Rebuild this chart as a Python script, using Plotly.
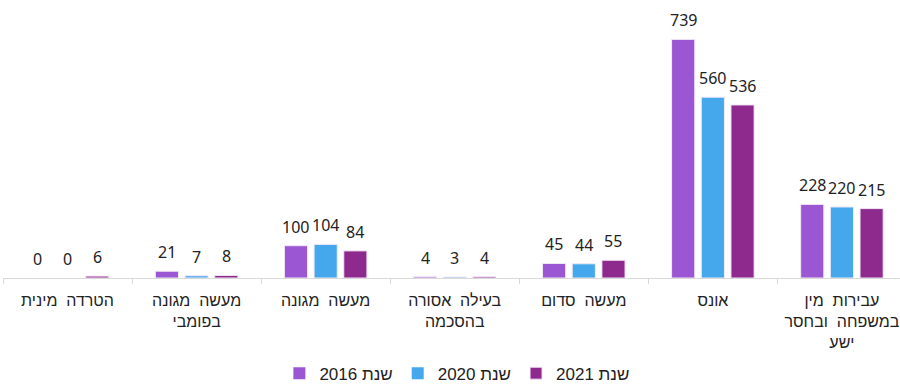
import plotly.graph_objects as go

# Offence categories, left to right as displayed (wide word spacing as in the source sheet)
SP = "\u00a0 "
categories = [
    f"הטרדה{SP}מינית",
    f"מעשה{SP}מגונה<br>בפומבי",
    f"מעשה{SP}מגונה",
    f"בעילה{SP}אסורה<br>בהסכמה",
    f"מעשה{SP}סדום",
    "אונס",
    f"עבירות{SP}מין<br>במשפחה{SP}ובחסר<br>ישע",
]

series_names = ["שנת 2016", "שנת 2020", "שנת 2021"]
values_2016 = [0, 21, 100, 4, 45, 739, 228]
values_2020 = [0, 7, 104, 3, 44, 560, 220]
values_2021 = [6, 8, 84, 4, 55, 536, 215]
colors = ["#9b57d3", "#45a7ec", "#8e2a8e"]
all_values = [values_2016, values_2020, values_2021]

WIDTH, HEIGHT = 900, 384
MARGIN = dict(l=3, r=0, t=10, b=106)
X_RANGE = [-0.5, 6.45]
BARGAP = 0.31
BARGROUPGAP = 0.22

fig = go.Figure()
for name, vals, col in zip(series_names, all_values, colors):
    fig.add_trace(go.Bar(
        x=categories,
        y=vals,
        name=name,
        marker=dict(
            color=col,
            # no outline on empty bars so zero values leave no mark
            line=dict(color="#f2e8f7", width=[0 if v == 0 else 1 for v in vals]),
        ),
        cliponaxis=False,
    ))

# Value labels sit above each bar, shifted to the bar's slot within its group
cat_px = (WIDTH - MARGIN["l"] - MARGIN["r"]) / (X_RANGE[1] - X_RANGE[0])
slot_px = cat_px * (1 - BARGAP) / len(all_values)
for i, vals in enumerate(all_values):
    offset = (i - (len(all_values) - 1) / 2) * slot_px
    for cat, v in zip(categories, vals):
        fig.add_annotation(
            x=cat, y=v, text=str(v),
            xshift=offset, yshift=6,
            yanchor="bottom", showarrow=False,
            font=dict(family="Noto Sans", size=16, color="#222222"),
        )

fig.update_layout(
    width=WIDTH,
    height=HEIGHT,
    margin=MARGIN,
    paper_bgcolor="white",
    plot_bgcolor="white",
    barmode="group",
    bargap=BARGAP,
    bargroupgap=BARGROUPGAP,
    showlegend=True,
    legend=dict(
        orientation="h",
        x=0.506,
        xanchor="center",
        yref="container",
        y=0.027,
        yanchor="middle",
        font=dict(family="Liberation Sans", size=17, color="#222222"),
        tracegroupgap=0,
    ),
    xaxis=dict(
        range=X_RANGE,
        automargin=False,
        showline=True,
        linecolor="#d9d9d9",
        linewidth=1,
        ticks="outside",
        tickson="boundaries",
        ticklen=5,
        tickcolor="#d9d9d9",
        ticklabelstandoff=8,
        showgrid=False,
        tickfont=dict(family="Liberation Sans", size=16, color="#222222"),
    ),
    yaxis=dict(
        range=[0, 830],
        visible=False,
        showgrid=False,
    ),
)

fig.write_html("out.html")
